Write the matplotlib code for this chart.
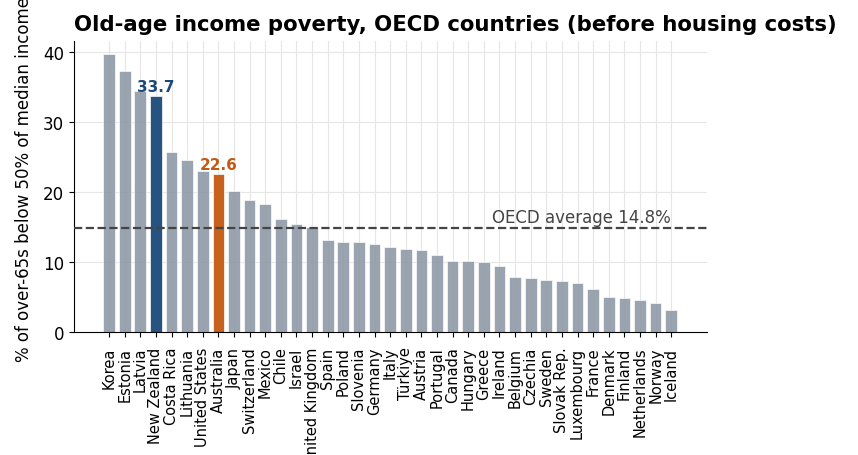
import matplotlib
matplotlib.use("Agg")
import matplotlib.pyplot as plt
import numpy as np

countries = ["Korea", "Estonia", "Latvia", "New Zealand", "Costa Rica", "Lithuania",
             "United States", "Australia", "Japan", "Switzerland", "Mexico", "Chile",
             "Israel", "United Kingdom", "Spain", "Poland", "Slovenia", "Germany",
             "Italy", "Türkiye", "Austria", "Portugal", "Canada", "Hungary", "Greece",
             "Ireland", "Belgium", "Czechia", "Sweden", "Slovak Rep.", "Luxembourg",
             "France", "Denmark", "Finland", "Netherlands", "Norway", "Iceland"]
values = [39.8, 37.3, 34.4, 33.7, 25.8, 24.6, 23.0, 22.6, 20.1, 18.8, 18.3, 16.2,
          15.4, 15.0, 13.1, 12.8, 12.8, 12.6, 12.1, 11.9, 11.7, 11.0, 10.2, 10.2,
          10.0, 9.5, 7.8, 7.7, 7.4, 7.3, 7.0, 6.1, 5.0, 4.9, 4.6, 4.1, 3.1]
oecd_avg = 14.8
highlight = {"New Zealand": "#1b4a7a", "Australia": "#c45a12"}
grey = "#8c98a5"

fig = plt.figure(figsize=(8.58, 4.56), dpi=100)
ax = fig.add_axes([0.0862, 0.2697, 0.738, 0.6383])

x = np.arange(len(countries))
colors = [highlight.get(c, grey) for c in countries]
alphas = [0.95 if c in highlight else 0.88 for c in countries]
bars = ax.bar(x, values, width=0.75, color=colors, edgecolor="white",
              linewidth=0.5, zorder=2)
for b, a in zip(bars, alphas):
    b.set_alpha(a)
ax.set_axisbelow(True)
ax.grid(True, color="#e6e6e6", linewidth=0.8, zorder=0)

ax.axhline(oecd_avg, color="#444444", linestyle="--", linewidth=1.6, zorder=3)
ax.text(len(countries) - 1, oecd_avg + 0.3, f"OECD average {oecd_avg}%",
        ha="right", va="bottom", fontsize=12, color="#444444", zorder=4)

for c, col in highlight.items():
    i = countries.index(c)
    ax.text(i, values[i] + 0.3, f"{values[i]}", ha="center", va="bottom",
            fontsize=11, fontweight="bold", color=col, zorder=4)

ax.set_xticks(x)
ax.set_xticklabels(countries, rotation=90, fontsize=10.5)
ax.tick_params(axis="x", pad=7)
ax.tick_params(axis="y", labelsize=12)
ax.set_yticks([0, 10, 20, 30, 40])
ax.set_xlim(-2.25, 38.3)
ax.set_ylim(0, 41.6)
for s in ["top", "right"]:
    ax.spines[s].set_visible(False)
ax.set_ylabel("% of over-65s below 50% of median income", fontsize=12)
ax.yaxis.set_label_coords(-0.064, 0.526)
ax.set_title("Old-age income poverty, OECD countries (before housing costs)",
             fontsize=15.3, fontweight="bold", loc="left", x=0.0, pad=8)

fig.savefig("out.png", dpi=100)
